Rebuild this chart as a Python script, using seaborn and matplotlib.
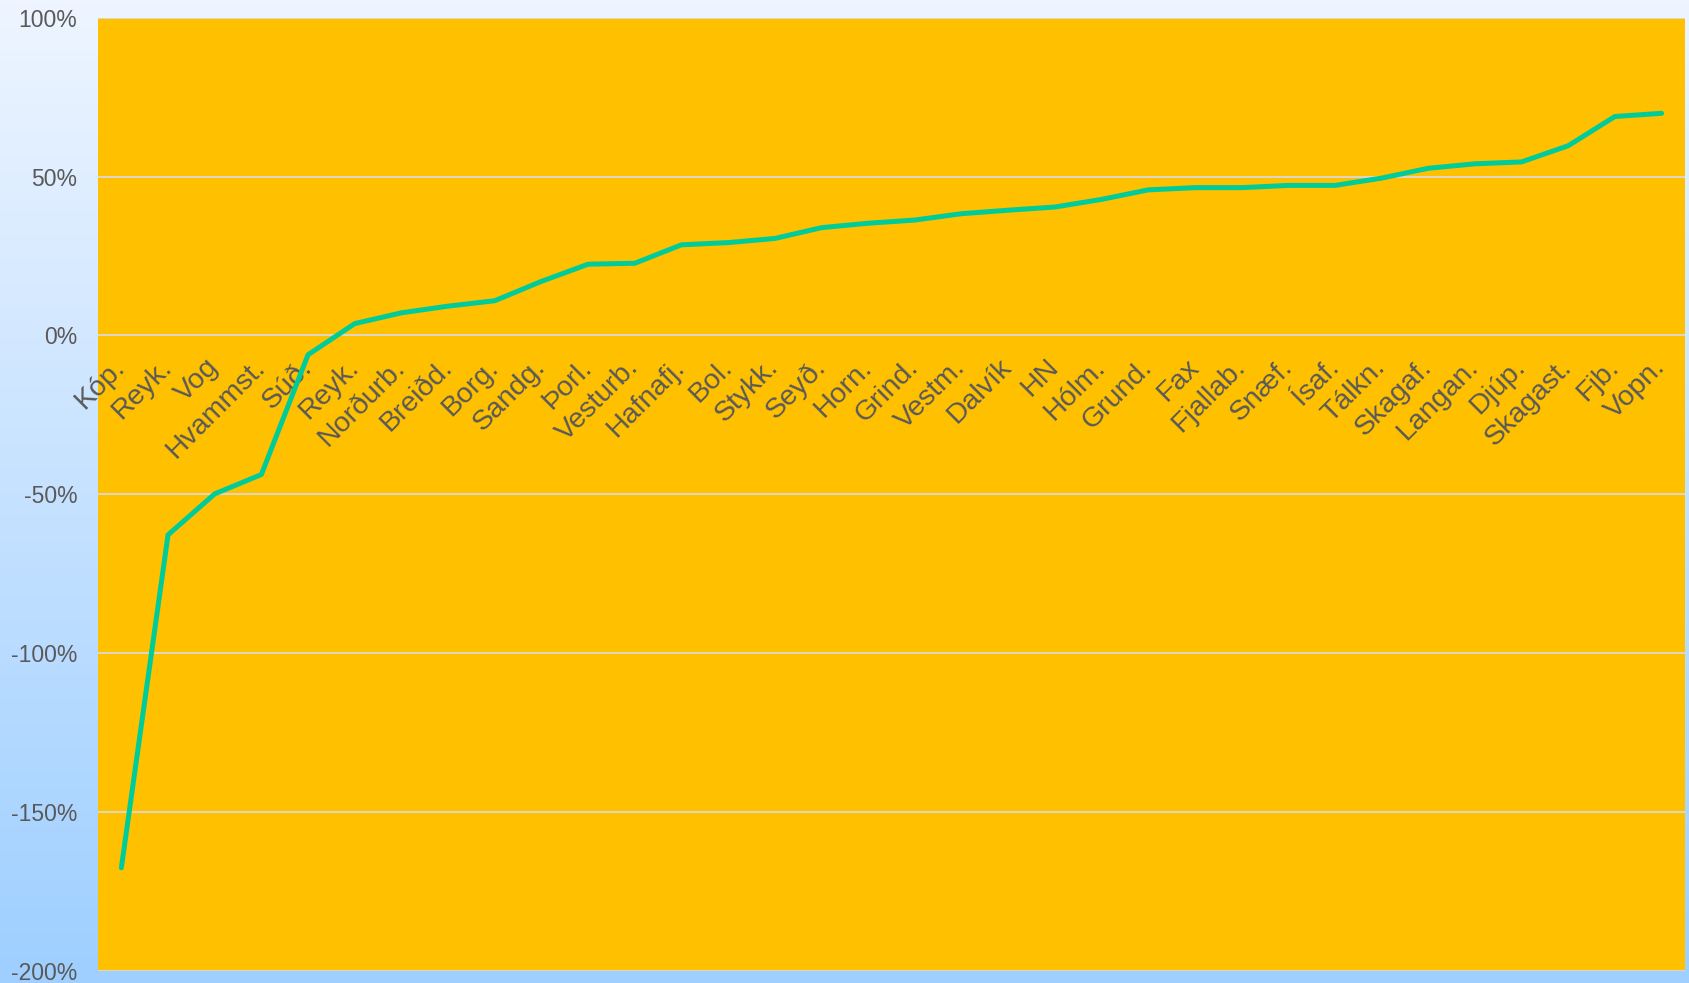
import numpy as np
import matplotlib
matplotlib.use("Agg")
import matplotlib.pyplot as plt
from matplotlib.colors import LinearSegmentedColormap
from matplotlib.ticker import PercentFormatter
import seaborn as sns

# data (change in %, sorted)
labels = ["Kóp.", "Reyk.", "Vog", "Hvammst.", "Súð.", "Reyk.", "Norðurb.", "Breiðd.",
          "Borg.", "Sandg.", "Þorl.", "Vesturb.", "Hafnafj.", "Bol.", "Stykk.", "Seyð.",
          "Horn.", "Grind.", "Vestm.", "Dalvík", "HN", "Hólm.", "Grund.", "Fax",
          "Fjallab.", "Snæf.", "Ísaf.", "Tálkn.", "Skagaf.", "Langan.", "Djúp.",
          "Skagast.", "Fjb.", "Vopn."]
values = [-167.6, -62.8, -49.9, -43.8, -6.1, 3.7, 7.1, 9.2,
          10.9, 17.0, 22.4, 22.7, 28.5, 29.2, 30.5, 33.9,
          35.3, 36.3, 38.3, 39.4, 40.4, 42.8, 45.8, 46.5,
          46.5, 47.2, 47.2, 49.5, 52.6, 54.0, 54.6,
          59.7, 68.9, 69.9]
y_ticks = [-200, -150, -100, -50, 0, 50, 100]

sns.set_style("white")
plt.rcParams["font.family"] = ["Liberation Sans", "DejaVu Sans"]
plt.rcParams["axes.unicode_minus"] = False

fig = plt.figure(figsize=(16.9, 9.83), dpi=100)

# gradient background behind everything
bg = fig.add_axes([0, 0, 1, 1], zorder=0)
grad = LinearSegmentedColormap.from_list("bg", ["#EEF5FF", "#9ECFFF"])
bg.imshow(np.linspace(0, 1, 256).reshape(-1, 1), aspect="auto", cmap=grad,
          extent=[0, 1, 0, 1])
bg.set_axis_off()

ax = fig.add_axes([0.058, 0.0125, 0.939, 0.9695], zorder=1)
ax.set_facecolor("#FFC000")

x = np.arange(len(values))
sns.lineplot(x=x, y=values, ax=ax, color="#00CC99", linewidth=3.6,
             solid_capstyle="round", zorder=3)

ax.set_xlim(-0.5, len(values) - 0.5)
ax.set_ylim(-200, 100)
ax.set_yticks(y_ticks)
ax.yaxis.set_major_formatter(PercentFormatter(decimals=0))
ax.grid(axis="y", color="#D9D9D9", linewidth=1.3)
ax.set_axisbelow(True)

# category labels sit on the zero line
ax.spines["bottom"].set_position(("data", 0))
for s in ax.spines.values():
    s.set_visible(False)
ax.set_xticks(x)
ax.set_xticklabels(labels, rotation=45, ha="right", va="center",
                   rotation_mode="anchor")
ax.tick_params(axis="x", length=0, pad=20, labelsize=20.5, labelcolor="#595959")
ax.tick_params(axis="y", length=0, pad=15, labelsize=16.5, labelcolor="#595959")

fig.savefig("out.png", dpi=100)
